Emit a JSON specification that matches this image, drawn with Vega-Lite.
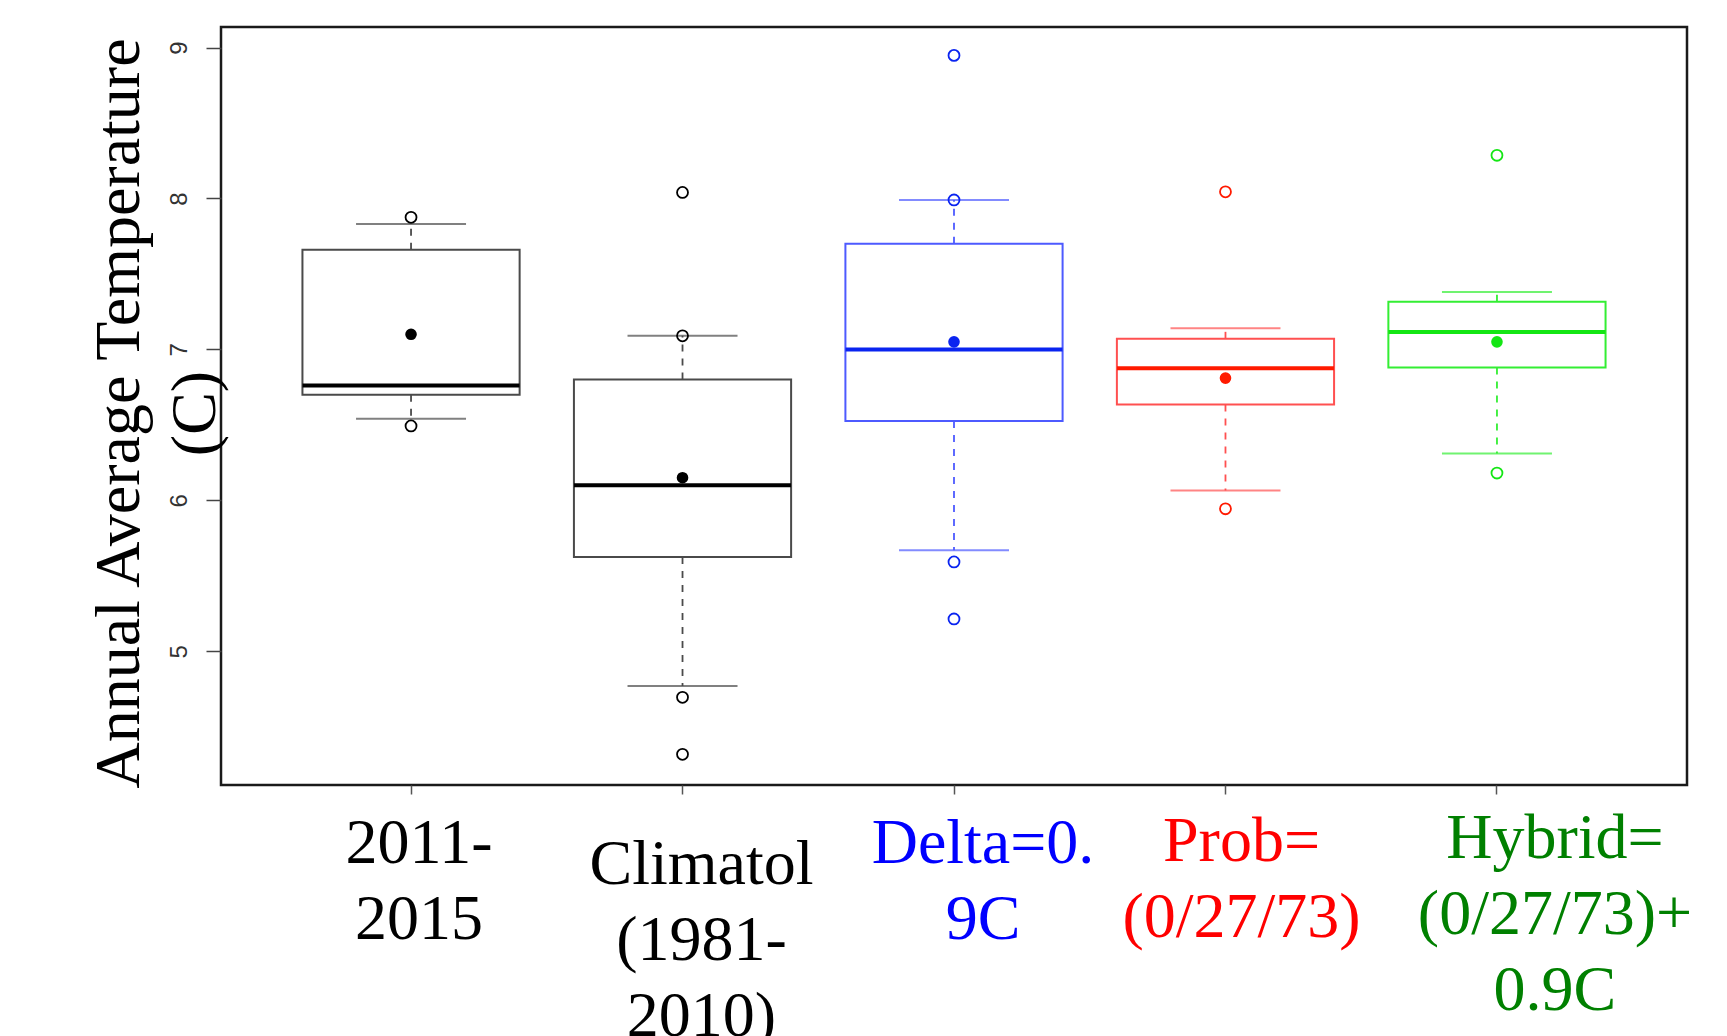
{
  "$schema": "https://vega.github.io/schema/vega-lite/v6.json",
  "width": 1466,
  "height": 758,
  "autosize": {"type": "none"},
  "padding": {"left": 221, "top": 27, "right": 40, "bottom": 251},
  "background": "white",
  "config": {"view": {"stroke": "#1a1a1a", "strokeWidth": 2.5}},
  "datasets": {
    "boxes": [
      {"g": "2011-2015", "lo": 6.54, "q1": 6.70, "med": 6.76, "q3": 7.66, "hi": 7.83, "mean": 7.10},
      {"g": "Climatol (1981-2010)", "lo": 4.77, "q1": 5.625, "med": 6.10, "q3": 6.80, "hi": 7.09, "mean": 6.15},
      {"g": "Delta=0.9C", "lo": 5.67, "q1": 6.525, "med": 7.00, "q3": 7.70, "hi": 7.99, "mean": 7.05},
      {"g": "Prob=(0/27/73)", "lo": 6.065, "q1": 6.635, "med": 6.875, "q3": 7.07, "hi": 7.14, "mean": 6.81},
      {"g": "Hybrid=(0/27/73)+0.9C", "lo": 6.31, "q1": 6.88, "med": 7.115, "q3": 7.315, "hi": 7.38, "mean": 7.05}
    ],
    "pts": [
      {"g": "2011-2015", "v": 7.875},
      {"g": "2011-2015", "v": 6.493},
      {"g": "Climatol (1981-2010)", "v": 8.04},
      {"g": "Climatol (1981-2010)", "v": 7.09},
      {"g": "Climatol (1981-2010)", "v": 4.695},
      {"g": "Climatol (1981-2010)", "v": 4.317},
      {"g": "Delta=0.9C", "v": 8.948},
      {"g": "Delta=0.9C", "v": 7.99},
      {"g": "Delta=0.9C", "v": 5.592},
      {"g": "Delta=0.9C", "v": 5.214},
      {"g": "Prob=(0/27/73)", "v": 8.044},
      {"g": "Prob=(0/27/73)", "v": 5.944},
      {"g": "Hybrid=(0/27/73)+0.9C", "v": 8.286},
      {"g": "Hybrid=(0/27/73)+0.9C", "v": 6.181}
    ]
  },
  "encoding": {
    "x": {
      "field": "g",
      "type": "nominal",
      "sort": ["2011-2015", "Climatol (1981-2010)", "Delta=0.9C", "Prob=(0/27/73)", "Hybrid=(0/27/73)+0.9C"],
      "scale": {"type": "band", "paddingInner": 0, "paddingOuter": 0.2},
      "axis": {
        "title": null,
        "domain": false,
        "grid": false,
        "tickSize": 9,
        "tickColor": "#555555",
        "tickWidth": 1.5,
        "labelAngle": 0,
        "labelFont": "Liberation Serif",
        "labelFontSize": 64,
        "labelLineHeight": 76,
        "labelAlign": "center",
        "labelBaseline": "top",
        "labelLimit": 0,
        "labelOverlap": false,
        "labelBound": false,
        "labelFlush": false,
        "labelExpr": "datum.value == '2011-2015' ? ['2011-', '2015'] : datum.value == 'Climatol (1981-2010)' ? ['Climatol', '(1981-', '2010)'] : datum.value == 'Delta=0.9C' ? ['Delta=0.', '9C'] : datum.value == 'Prob=(0/27/73)' ? ['Prob=', '(0/27/73)'] : ['Hybrid=', '(0/27/73)+', '0.9C']",
        "labelColor": {
          "condition": [
            {"test": "datum.value == 'Delta=0.9C'", "value": "#0000ff"},
            {"test": "datum.value == 'Prob=(0/27/73)'", "value": "#ff0000"},
            {"test": "datum.value == 'Hybrid=(0/27/73)+0.9C'", "value": "#008000"}
          ],
          "value": "#000000"
        },
        "labelOffset": {
          "condition": [
            {"test": "datum.value == '2011-2015'", "value": 8},
            {"test": "datum.value == 'Climatol (1981-2010)'", "value": 19},
            {"test": "datum.value == 'Delta=0.9C'", "value": 29},
            {"test": "datum.value == 'Prob=(0/27/73)'", "value": 16}
          ],
          "value": 58
        },
        "labelPadding": {
          "condition": [
            {"test": "datum.value == 'Climatol (1981-2010)'", "value": 38},
            {"test": "datum.value == 'Prob=(0/27/73)'", "value": 15},
            {"test": "datum.value == 'Hybrid=(0/27/73)+0.9C'", "value": 12}
          ],
          "value": 17
        }
      }
    }
  },
  "layer": [
    {
      "data": {"name": "boxes"},
      "mark": {"type": "rule", "strokeDash": [7, 7], "strokeWidth": 1.8},
      "encoding": {
        "y": {
          "field": "q3",
          "type": "quantitative",
          "title": ["Annual Average Temperature", "(C)"],
          "scale": {"domain": [4.114, 9.136], "nice": false, "zero": false},
          "axis": {
            "values": [5, 6, 7, 8, 9],
            "format": "d",
            "domain": false,
            "grid": false,
            "tickSize": 15,
            "tickColor": "#444444",
            "tickWidth": 1.5,
            "labelFont": "Liberation Sans",
            "labelFontSize": 24,
            "labelColor": "#333333",
            "labelAngle": -90,
            "labelAlign": "center",
            "labelBaseline": "alphabetic",
            "labelPadding": 20,
            "titleFont": "Liberation Serif",
            "titleFontSize": 64,
            "titleFontWeight": "normal",
            "titleColor": "#000000",
            "titleLineHeight": 76,
            "titleAngle": -90,
            "titleAlign": "center",
            "titleBaseline": "top",
            "titleX": -134,
            "titleY": 386
          }
        },
        "y2": {"field": "hi"},
        "stroke": {
          "field": "g", "type": "nominal",
          "scale": {"domain": ["2011-2015", "Climatol (1981-2010)", "Delta=0.9C", "Prob=(0/27/73)", "Hybrid=(0/27/73)+0.9C"], "range": ["#4a4a4a", "#4a4a4a", "#4d5aff", "#ff5050", "#33ee33"]},
          "legend": null
        }
      }
    },
    {
      "data": {"name": "boxes"},
      "mark": {"type": "rule", "strokeDash": [7, 7], "strokeWidth": 1.8},
      "encoding": {
        "y": {"field": "q1", "type": "quantitative", "title": ["Annual Average Temperature", "(C)"]},
        "y2": {"field": "lo"},
        "stroke": {"field": "g", "type": "nominal", "legend": null}
      }
    },
    {
      "data": {"name": "boxes"},
      "mark": {"type": "bar", "fill": "transparent", "strokeWidth": 2, "width": {"band": 0.8}},
      "encoding": {
        "y": {"field": "q1", "type": "quantitative", "title": ["Annual Average Temperature", "(C)"]},
        "y2": {"field": "q3"},
        "stroke": {"field": "g", "type": "nominal", "legend": null}
      }
    },
    {
      "data": {"name": "boxes"},
      "mark": {"type": "tick", "size": 110, "thickness": 2},
      "encoding": {
        "y": {"field": "hi", "type": "quantitative", "title": ["Annual Average Temperature", "(C)"]},
        "fill": {
          "field": "g", "type": "nominal",
          "scale": {"domain": ["2011-2015", "Climatol (1981-2010)", "Delta=0.9C", "Prob=(0/27/73)", "Hybrid=(0/27/73)+0.9C"], "range": ["#4a4a4a", "#4a4a4a", "#4d5aff", "#ff5050", "#33ee33"]},
          "legend": null
        }
      }
    },
    {
      "data": {"name": "boxes"},
      "mark": {"type": "tick", "size": 110, "thickness": 2},
      "encoding": {
        "y": {"field": "lo", "type": "quantitative", "title": ["Annual Average Temperature", "(C)"]},
        "fill": {"field": "g", "type": "nominal", "legend": null}
      }
    },
    {
      "data": {"name": "boxes"},
      "mark": {"type": "tick", "size": 217, "thickness": 4, "opacity": 1},
      "encoding": {
        "y": {"field": "med", "type": "quantitative", "title": ["Annual Average Temperature", "(C)"]},
        "color": {
          "field": "g", "type": "nominal",
          "scale": {"domain": ["2011-2015", "Climatol (1981-2010)", "Delta=0.9C", "Prob=(0/27/73)", "Hybrid=(0/27/73)+0.9C"], "range": ["#000000", "#000000", "#0a24f0", "#ff1a00", "#14e614"]},
          "legend": null
        }
      }
    },
    {
      "data": {"name": "boxes"},
      "mark": {"type": "point", "shape": "circle", "filled": true, "size": 135, "opacity": 1},
      "encoding": {
        "y": {"field": "mean", "type": "quantitative", "title": ["Annual Average Temperature", "(C)"]},
        "color": {"field": "g", "type": "nominal", "legend": null}
      }
    },
    {
      "data": {"name": "pts"},
      "mark": {"type": "point", "shape": "circle", "filled": false, "fill": "transparent", "size": 120, "opacity": 1},
      "encoding": {
        "y": {"field": "v", "type": "quantitative", "title": ["Annual Average Temperature", "(C)"]},
        "color": {"field": "g", "type": "nominal", "legend": null},
        "strokeWidth": {
          "field": "g", "type": "nominal",
          "scale": {"domain": ["2011-2015", "Climatol (1981-2010)", "Delta=0.9C", "Prob=(0/27/73)", "Hybrid=(0/27/73)+0.9C"], "range": [1.8, 1.8, 1.8, 3, 3]},
          "legend": null
        }
      }
    }
  ]
}
